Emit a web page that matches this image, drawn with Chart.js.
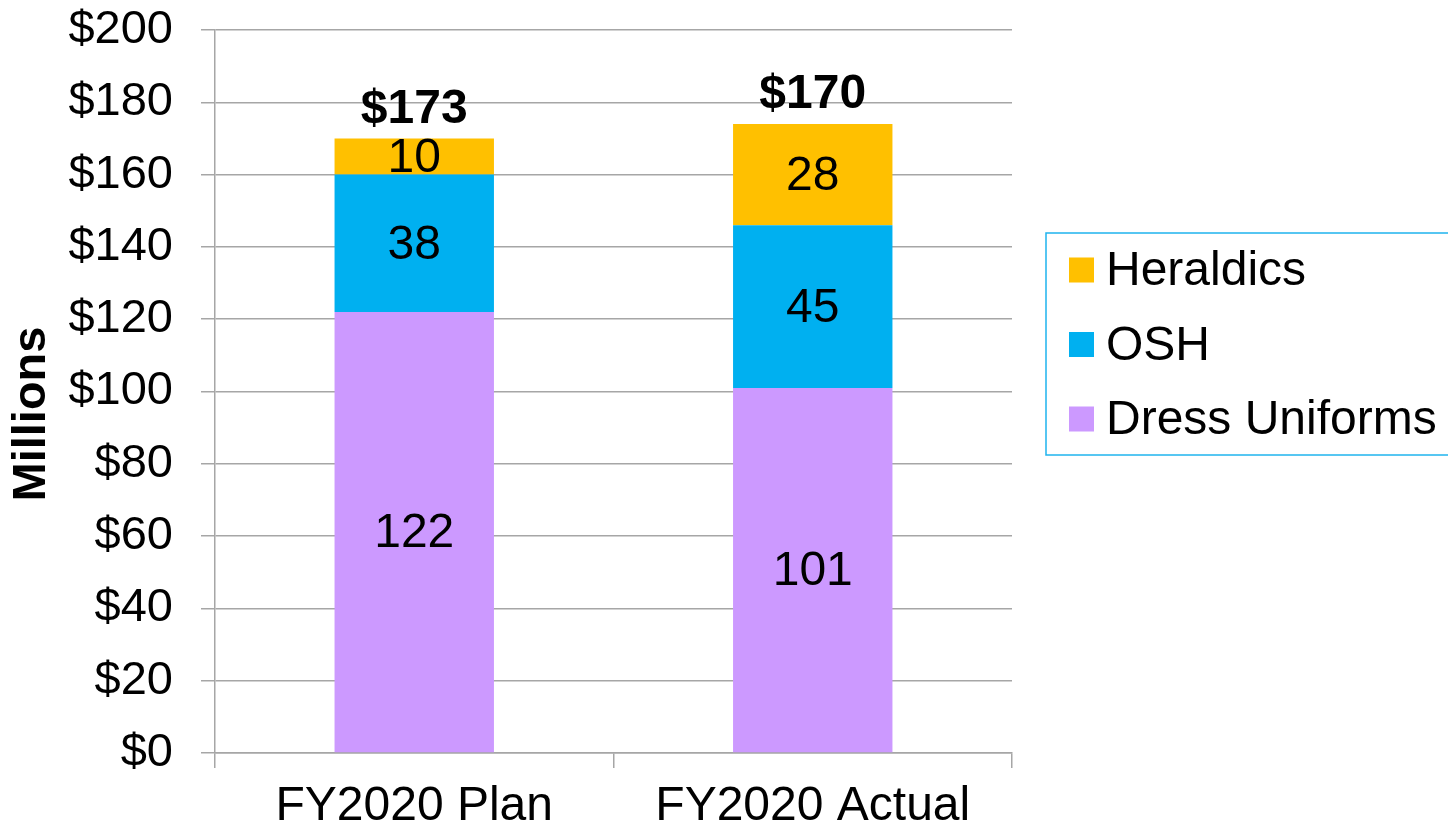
<!DOCTYPE html>
<html>
<head>
<meta charset="utf-8">
<script src="https://cdn.jsdelivr.net/npm/chart.js@4"></script>
<style>
  html, body { margin: 0; padding: 0; background: #fff; }
  #wrap { width: 1448px; height: 831px; }
</style>
</head>
<body>
<div id="wrap"><canvas id="uniformChart" width="1448" height="831"></canvas></div>
<script>
// Chart values
const categories = ['FY2020 Plan', 'FY2020 Actual'];
const dressUniforms = [122, 101];
const osh = [38, 45];
const heraldics = [10, 28];
const totalLabels = ['$173', '$170'];
const yTicks = [0, 20, 40, 60, 80, 100, 120, 140, 160, 180, 200];
const yTitle = 'Millions';

const FONT = "'Liberation Sans', Arial, sans-serif";
const GRID = '#a6a6a6';

// Segment values centred in each bar, totals above each stack
const barLabelsPlugin = {
    id: 'barLabels',
    afterDatasetsDraw(chart) {
        const { ctx } = chart;
        ctx.save();
        ctx.fillStyle = '#000';
        ctx.textAlign = 'center';
        ctx.textBaseline = 'middle';
        ctx.font = `48px ${FONT}`;
        chart.data.datasets.forEach((ds, di) => {
            chart.getDatasetMeta(di).data.forEach((bar, i) => {
                const mid = (bar.y + bar.base) / 2;
                ctx.fillText(String(ds.data[i]), bar.x, mid + 2);
            });
        });
        const topMeta = chart.getDatasetMeta(chart.data.datasets.length - 1);
        ctx.font = `bold 48px ${FONT}`;
        topMeta.data.forEach((bar, i) => {
            ctx.fillText(totalLabels[i], bar.x, bar.y - 29);
        });
        ctx.restore();
    }
};

// Rotated axis title, sitting a bit lower than Chart.js would centre it
const yTitlePlugin = {
    id: 'yTitle',
    afterDraw(chart) {
        const { ctx } = chart;
        ctx.save();
        ctx.translate(32, 414);
        ctx.rotate(-Math.PI / 2);
        ctx.font = `bold 47px ${FONT}`;
        ctx.fillStyle = '#000';
        ctx.textAlign = 'center';
        ctx.textBaseline = 'middle';
        ctx.fillText(yTitle, 0, 0);
        ctx.restore();
    }
};

// Boxed legend on the right, top entry = top of stack
const boxLegendPlugin = {
    id: 'boxLegend',
    afterDraw(chart) {
        const { ctx } = chart;
        const x0 = 1046, y0 = 233, w = 410, h = 222;
        ctx.save();
        ctx.strokeStyle = '#1fb4ee';
        ctx.lineWidth = 1.5;
        ctx.strokeRect(x0, y0, w, h);
        ctx.font = `48px ${FONT}`;
        ctx.textBaseline = 'middle';
        ctx.textAlign = 'left';
        const items = chart.data.datasets.slice().reverse();
        items.forEach((ds, i) => {
            const cy = y0 + 37 + i * 74.5;
            ctx.fillStyle = ds.backgroundColor;
            ctx.fillRect(x0 + 23, cy - 12.5, 25, 25);
            ctx.fillStyle = '#000';
            ctx.fillText(ds.label, x0 + 60, cy + 2);
        });
        ctx.restore();
    }
};

new Chart(document.getElementById('uniformChart').getContext('2d'), {
    type: 'bar',
    data: {
        labels: categories,
        datasets: [
            { label: 'Dress Uniforms', data: dressUniforms, backgroundColor: '#cc99ff' },
            { label: 'OSH', data: osh, backgroundColor: '#00b0f0' },
            { label: 'Heraldics', data: heraldics, backgroundColor: '#ffc000' }
        ]
    },
    options: {
        responsive: false,
        animation: false,
        devicePixelRatio: 1,
        layout: { padding: { top: 30, right: 436, bottom: 0, left: 0 } },
        datasets: {
            bar: { categoryPercentage: 1.0, barPercentage: 0.4, borderWidth: 0 }
        },
        scales: {
            x: {
                stacked: true,
                afterFit(scale) { scale.height = 78; scale.paddingLeft = 0; scale.paddingRight = 0; },
                grid: {
                    offset: true,
                    drawOnChartArea: false,
                    drawTicks: true,
                    tickLength: 15,
                    color: GRID,
                    lineWidth: 1.5
                },
                border: { display: true, color: GRID, width: 1.5 },
                ticks: {
                    color: '#000',
                    padding: 10,
                    font: { family: FONT, size: 48 }
                }
            },
            y: {
                stacked: true,
                min: 0,
                max: 200,
                afterFit(scale) { scale.width = 215; scale.paddingTop = 0; scale.paddingBottom = 0; },
                afterBuildTicks(scale) { scale.ticks = yTicks.map(v => ({ value: v })); },
                grid: {
                    color: GRID,
                    lineWidth: 1.5,
                    tickLength: 14
                },
                border: { display: true, color: GRID, width: 1.5 },
                ticks: {
                    color: '#000',
                    padding: 28,
                    font: { family: FONT, size: 47 },
                    callback: v => '$' + v
                },
                title: { display: false }
            }
        },
        plugins: {
            legend: { display: false },
            tooltip: { enabled: false }
        }
    },
    plugins: [barLabelsPlugin, yTitlePlugin, boxLegendPlugin]
});
</script>
</body>
</html>
